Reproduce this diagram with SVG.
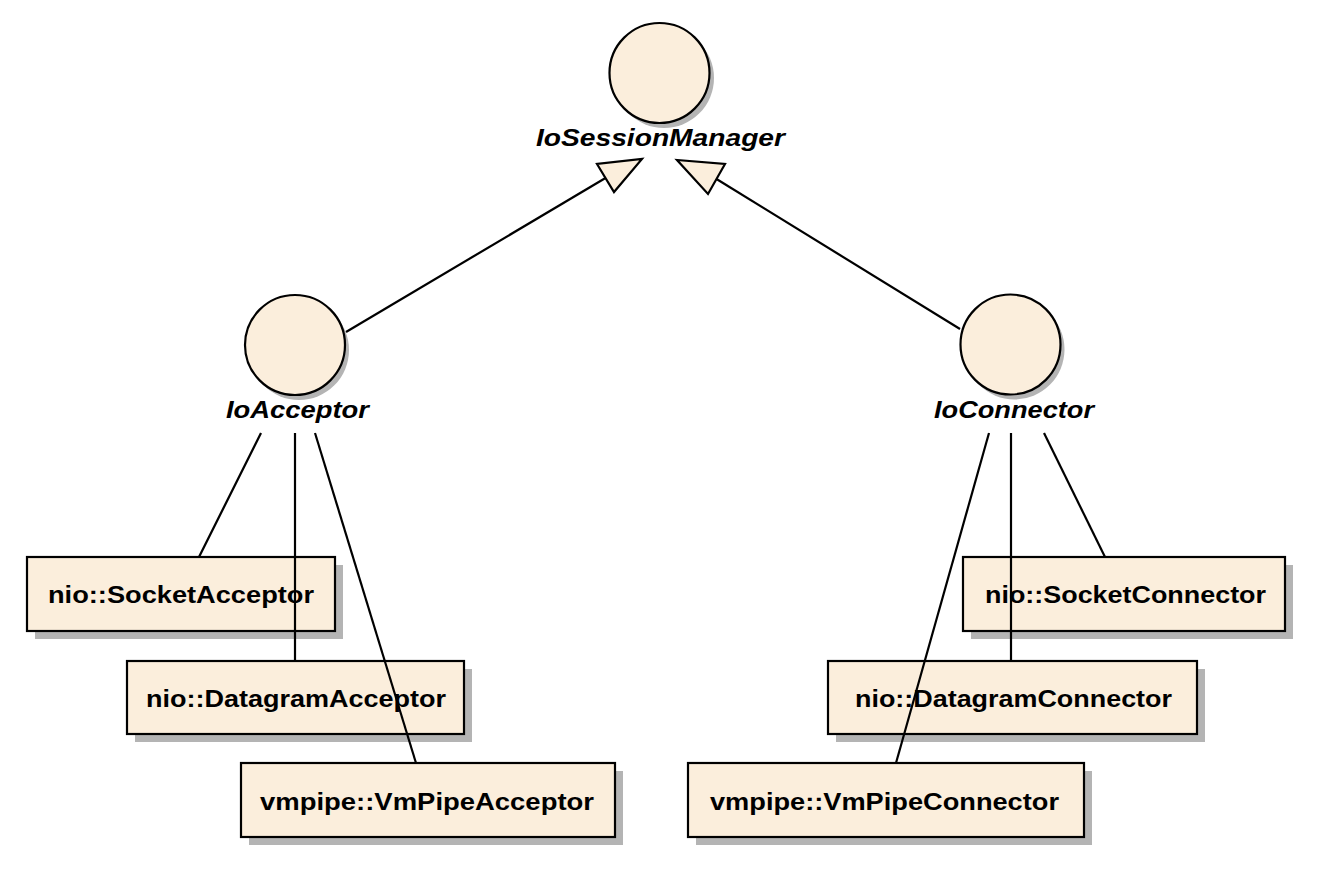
<svg xmlns="http://www.w3.org/2000/svg" width="1320" height="884" viewBox="0 0 1320 884">
<style>
.bg{fill:#ffffff}
.box{fill:#fbeedc;stroke:#000;stroke-width:2.2}
.shadow{fill:#b4b4b4}
.circ{fill:#fbeedc;stroke:#000;stroke-width:2.2}
.lbl{font-family:"Liberation Sans",Arial,sans-serif;font-weight:bold;font-size:24px;fill:#000}
.ilbl{font-family:"Liberation Sans",Arial,sans-serif;font-weight:bold;font-style:italic;font-size:23px;fill:#000}
.conn{stroke:#000;stroke-width:2.2;fill:none}
.tri{fill:#fbeedc;stroke:#000;stroke-width:2.2;stroke-linejoin:miter}
</style>
<rect class="bg" x="0" y="0" width="1320" height="884"/>
<g id="IoSessionManager">
<circle class="shadow" cx="664" cy="78" r="50"/>
<circle class="circ" cx="659.5" cy="73" r="50"/>
<text class="ilbl" x="536" y="146" textLength="249" lengthAdjust="spacingAndGlyphs">IoSessionManager</text>
</g>
<g id="IoAcceptor">
<circle class="shadow" cx="299" cy="350" r="50"/>
<circle class="circ" cx="295" cy="345" r="50"/>
<text class="ilbl" x="226" y="418" textLength="143" lengthAdjust="spacingAndGlyphs">IoAcceptor</text>
</g>
<g id="IoConnector">
<circle class="shadow" cx="1014.5" cy="349.5" r="50"/>
<circle class="circ" cx="1010.5" cy="344.5" r="50"/>
<text class="ilbl" x="934" y="418" textLength="160" lengthAdjust="spacingAndGlyphs">IoConnector</text>
</g>
<g id="SocketAcceptor">
<rect class="shadow" x="35" y="565" width="308" height="74"/>
<rect class="box" x="27" y="557" width="308" height="74"/>
<text class="lbl" x="48" y="603" textLength="266" lengthAdjust="spacingAndGlyphs">nio::SocketAcceptor</text>
</g>
<g id="DatagramAcceptor">
<rect class="shadow" x="135" y="669" width="337" height="73"/>
<rect class="box" x="127" y="661" width="337" height="73"/>
<text class="lbl" x="146" y="707" textLength="300" lengthAdjust="spacingAndGlyphs">nio::DatagramAcceptor</text>
</g>
<g id="VmPipeAcceptor">
<rect class="shadow" x="249" y="771" width="374" height="74"/>
<rect class="box" x="241" y="763" width="374" height="74"/>
<text class="lbl" x="260" y="810" textLength="334" lengthAdjust="spacingAndGlyphs">vmpipe::VmPipeAcceptor</text>
</g>
<g id="SocketConnector">
<rect class="shadow" x="971" y="565" width="322" height="74"/>
<rect class="box" x="963" y="557" width="322" height="74"/>
<text class="lbl" x="985" y="603" textLength="281" lengthAdjust="spacingAndGlyphs">nio::SocketConnector</text>
</g>
<g id="DatagramConnector">
<rect class="shadow" x="836" y="669" width="369" height="73"/>
<rect class="box" x="828" y="661" width="369" height="73"/>
<text class="lbl" x="855" y="707" textLength="317" lengthAdjust="spacingAndGlyphs">nio::DatagramConnector</text>
</g>
<g id="VmPipeConnector">
<rect class="shadow" x="696" y="771" width="396" height="74"/>
<rect class="box" x="688" y="763" width="396" height="74"/>
<text class="lbl" x="710" y="810" textLength="349" lengthAdjust="spacingAndGlyphs">vmpipe::VmPipeConnector</text>
</g>
<g id="connectors">
<line class="conn" x1="346" y1="332" x2="605.5" y2="178"/>
<polygon class="tri" points="597,164 614,192 642,159"/>
<line class="conn" x1="960" y1="329" x2="716.5" y2="179"/>
<polygon class="tri" points="725,164 708,194 677,160"/>
<line class="conn" x1="261" y1="433" x2="199" y2="557"/>
<line class="conn" x1="295" y1="433" x2="295" y2="661"/>
<line class="conn" x1="315" y1="433" x2="416" y2="763"/>
<line class="conn" x1="1044" y1="433" x2="1105" y2="557"/>
<line class="conn" x1="1011" y1="433" x2="1011" y2="661"/>
<line class="conn" x1="989" y1="433" x2="896" y2="763"/>
</g>
</svg>
